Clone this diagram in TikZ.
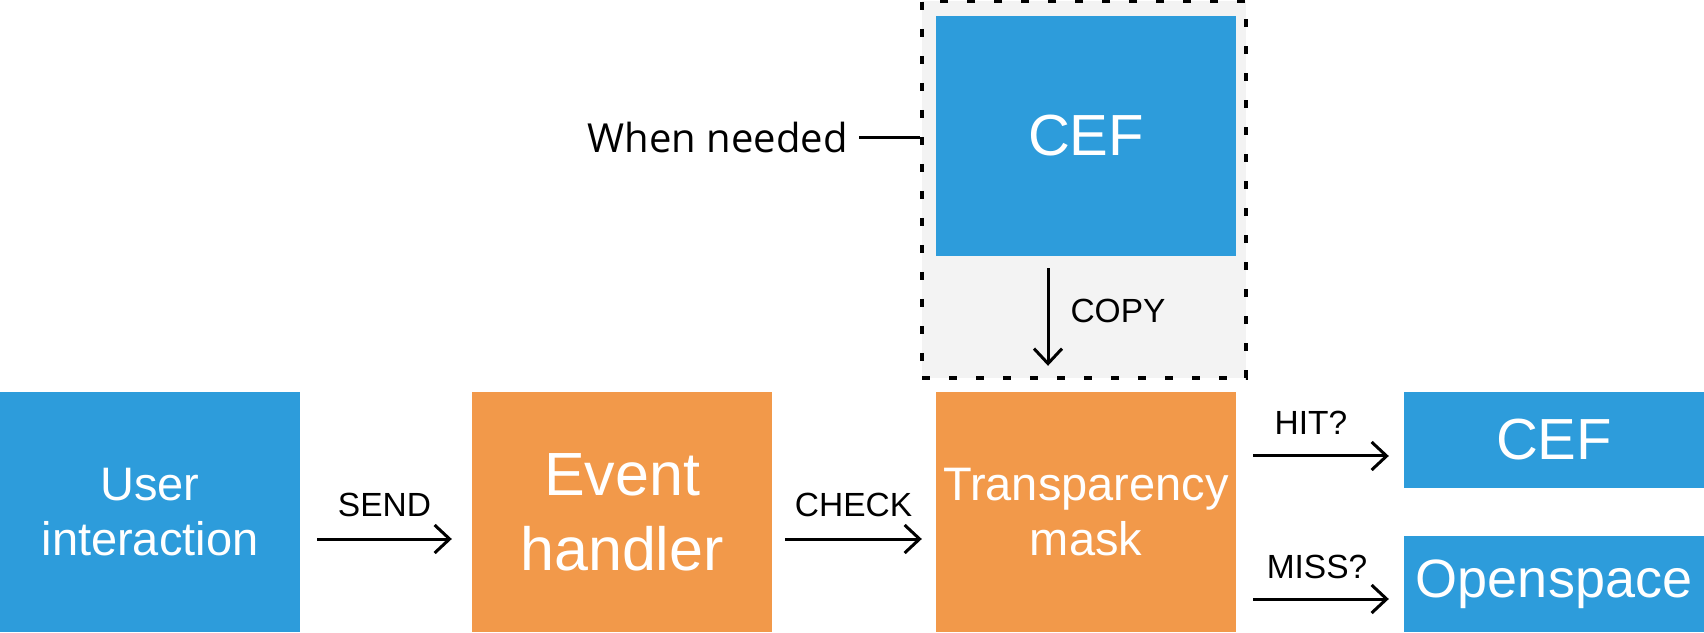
\documentclass[tikz,border=0pt]{standalone}
\usepackage{fontspec}
\setmainfont{Liberation Sans}
\newfontfamily\notefont{Open Sans}
\usepackage{xcolor}
\definecolor{myblue}{RGB}{45,156,219}
\definecolor{myorange}{RGB}{242,153,74}
\definecolor{framegray}{RGB}{243,243,243}
\usepackage{tikz}
\usetikzlibrary{arrows.meta}

\begin{document}
\begin{tikzpicture}[x=1pt,y=1pt,
    box/.style={fill=#1, text=white, align=center, inner sep=0pt,
        minimum width=300pt, minimum height=240pt},
    flat/.style={box=#1, minimum height=96pt},
    arr/.style={line width=3pt, -{Straight Barb[length=15pt,width=28pt]}},
    lbl/.style={inner sep=0pt, font=\fontsize{33.5}{36}\selectfont}]
    \useasboundingbox (0,0) rectangle (1704,632);
    % Parameters
    \def\dy{27}
    % Copy region
    \node[draw, fill=framegray, line width=4pt, dash pattern=on 8pt off 19pt,
        minimum width=324pt, minimum height=377pt, inner sep=0pt] (F) at (1084,442.5) {};
    % Boxes
    \node[box=myblue, font=\fontsize{58}{62}\selectfont] (C1) at (1086,496) {CEF};
    \node[box=myblue, font=\fontsize{47}{55}\selectfont] (UI) at (150,120) {User\\interaction};
    \node[box=myorange, font=\fontsize{61}{75}\selectfont] (EH) at (622,120) {Event\\handler};
    \node[box=myorange, font=\fontsize{47}{55}\selectfont] (TM) at (1086,120) {Transparency\\mask};
    \node[flat=myblue, font=\fontsize{58}{62}\selectfont] (C2) at (1554,192) {CEF};
    \node[flat=myblue, font=\fontsize{54}{60}\selectfont] (OS) at (1554,48) {Openspace};
    % Side note
    \node[anchor=east, inner sep=0pt, font=\notefont\fontsize{40}{44}\selectfont] (N) at (848,494) {When needed};
    \draw[line width=3pt] ([xshift=11pt]N.east) -- (N.east -| F.west);
    % Arrows
    \draw[arr] ([xshift=17pt,yshift=-\dy pt]UI.east) -- ([xshift=-20pt,yshift=-\dy pt]EH.west)
        node[lbl, midway, above=21pt] {SEND};
    \draw[arr] ([xshift=13pt,yshift=-\dy pt]EH.east) -- ([xshift=-14pt,yshift=-\dy pt]TM.west)
        node[lbl, midway, above=21pt] {CHECK};
    \draw[arr] ([xshift=17pt,yshift=-16pt]TM.east |- C2.west) -- ([xshift=-15pt,yshift=-16pt]C2.west)
        node[lbl, midway, above=20pt, xshift=-10pt] {HIT?};
    \draw[arr] ([xshift=17pt,yshift=-15pt]TM.east |- OS.west) -- ([xshift=-15pt,yshift=-15pt]OS.west)
        node[lbl, midway, above=19pt, xshift=-4pt] {MISS?};
    \draw[arr] ([xshift=-38pt,yshift=-12pt]C1.south) -- ([xshift=-38pt,yshift=26pt]TM.north)
        node[lbl, midway, right=21pt, yshift=6pt] {COPY};
\end{tikzpicture}
\end{document}
